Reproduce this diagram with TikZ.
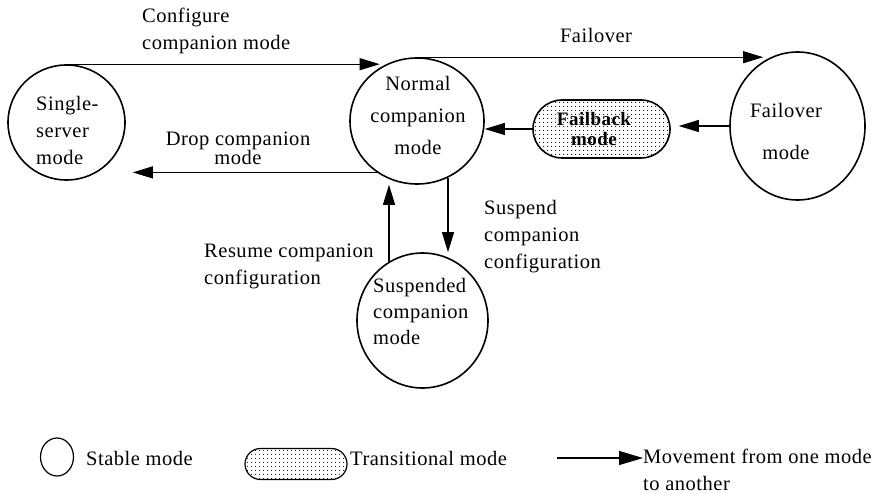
\documentclass[tikz,border=0pt]{standalone}
\usepackage{fontspec}
\setmainfont{Liberation Serif}[LetterSpace=2.5]
\newfontfamily\keyfont{Liberation Serif}[LetterSpace=2.5]
\usetikzlibrary{arrows.meta,shapes.geometric,shapes.misc,patterns.meta}
\begin{document}
\begin{tikzpicture}[x=1pt,y=-1pt,
  mode/.style={draw,ellipse,line width=1.6pt,inner sep=0pt},
  trans/.style={draw,rounded rectangle,line width=1.6pt,inner sep=0pt,
    pattern={Dots[distance=4pt,radius=0.65pt]}},
  move/.style={-{Triangle[length=20pt,width=12pt]},line width=1.1pt},
  lbl/.style={font=\keyfont\fontsize{20.5}{27}\selectfont,inner sep=0pt,align=left},
]
\useasboundingbox (0,0) rectangle (880,494);

% stable modes
\node[mode,minimum width=117pt,minimum height=115pt] (single) at (66.5,122.5) {};
\node[mode,minimum width=134pt,minimum height=126pt] (normal) at (417,121) {};
\node[mode,minimum width=135pt,minimum height=148pt] (failover) at (797.5,126) {};
\node[mode,minimum width=131pt,minimum height=135pt] (suspended) at (422.5,320.5) {};
% transitional mode
\node[trans,minimum width=137pt,minimum height=58pt] (failback) at (601.5,129) {};

% texts inside the modes
\node[lbl,anchor=west] (singletxt) at (36,130) {Single-\\server\\mode};
\node[lbl,align=center,font=\keyfont\fontsize{20.5}{32}\selectfont] (normaltxt) at (418,115) {Normal\\companion\\mode};
\node[lbl,align=center] (failovertxt) at (786,131) {Failover\\[15pt]mode};
\node[lbl,anchor=west,font=\keyfont\fontsize{20.5}{26}\selectfont] (susptxt) at (373,311) {Suspended\\companion\\mode};
\node[inner sep=0pt,align=center,font=\keyfont\bfseries\fontsize{19}{20}\selectfont] (failbacktxt) at (594,129) {Failback\\mode};

% transition labels
\node[lbl,anchor=west] (cfgtxt) at (142,31) {Configure\\companion mode};
\node[lbl] (fotxt) at (596,35) {Failover};
\node[lbl,align=center,font=\keyfont\fontsize{20.5}{19}\selectfont] (droptxt) at (238,148) {Drop companion\\mode};
\node[lbl,anchor=west] (suspendtxt) at (484,237) {Suspend\\companion\\configuration};
\node[lbl,anchor=west] (resumetxt) at (204,266) {Resume companion\\configuration};

% transitions
\draw[move] (single.north) -- (single.north -| normal.125);
\draw[move] (normal.north) -- (normal.north -| failover.118);
\draw[move,shorten >=7pt] (normal.232) -- (normal.232 -| single.east);
\draw[move,shorten >=8pt] (failover.west) -- (failover.west -| failback.east);
\draw[move] (failback.west) -- (failback.west -| normal.east);
\coordinate (resfoot) at (389,262);
\draw[move] (resfoot) -- (resfoot |- normal.south);
\coordinate (suspfoot) at (448,178);
\draw[move] (suspfoot) -- (suspfoot |- suspended.north);

% legend
\node[mode,line width=1.2pt,minimum width=33pt,minimum height=38pt] (stablekey) at (57,457) {};
\node[lbl,anchor=west] (stabletxt) at (86,458) {Stable mode};
\node[trans,line width=1.2pt,minimum width=102pt,minimum height=31pt] (transkey) at (296,464) {};
\node[lbl,anchor=west] (transtxt) at (350,458) {Transitional mode};
\node[lbl,anchor=north west] (movetxt) at (643,449) {Movement from one mode\\to another};
\coordinate (movekey) at (557,458);
\draw[move,-{Triangle[length=24pt,width=14pt]}] (movekey) -- (movekey -| movetxt.west);
\end{tikzpicture}
\end{document}
